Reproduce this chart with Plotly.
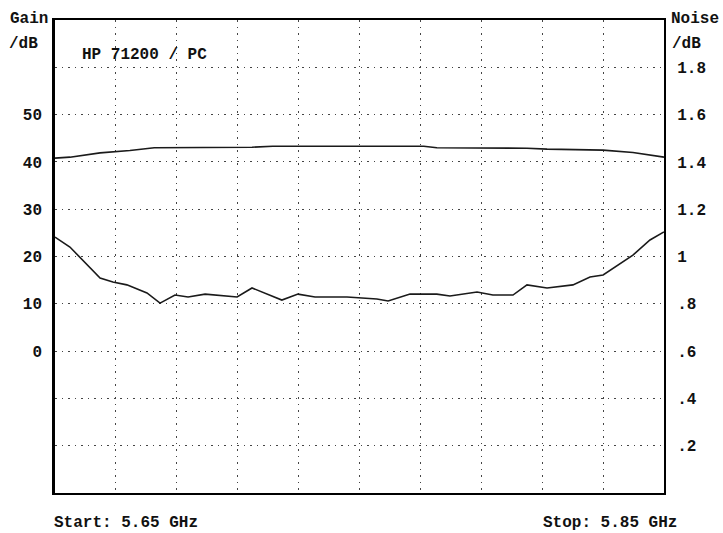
import plotly.graph_objects as go

# ---- data ----
freq_gain = [5.65, 5.6549, 5.6648, 5.6746, 5.6826, 5.7147, 5.7215, 5.7711, 5.7754,
             5.8050, 5.8116, 5.8300, 5.8398, 5.85]
gain = [40.8, 41.0, 41.9, 42.4, 43.0, 43.1, 43.3, 43.3, 43.0,
        42.9, 42.7, 42.5, 42.0, 41.0]

freq_noise = [5.65, 5.6549, 5.6648, 5.6690, 5.6736, 5.6802, 5.6845, 5.6894, 5.6937,
              5.6993, 5.7098, 5.7147, 5.7245, 5.7298, 5.7354, 5.7459, 5.7557, 5.7594,
              5.7666, 5.7754, 5.7797, 5.7886, 5.7938, 5.8004, 5.8050, 5.8116, 5.8201,
              5.8257, 5.8300, 5.8398, 5.8454, 5.85]
noise = [1.082, 1.040, 0.909, 0.892, 0.880, 0.846, 0.803, 0.837, 0.829,
         0.841, 0.829, 0.867, 0.816, 0.841, 0.829, 0.829, 0.820, 0.812,
         0.841, 0.841, 0.833, 0.850, 0.837, 0.837, 0.880, 0.867, 0.880,
         0.913, 0.922, 1.006, 1.070, 1.104]

gain_ticks = [0, 10, 20, 30, 40, 50]
gain_tick_labels = ["0", "10", "20", "30", "40", "50"]
noise_ticks = [0.2, 0.4, 0.6, 0.8, 1.0, 1.2, 1.4, 1.6, 1.8]
noise_tick_labels = [".2", ".4", ".6", ".8", "1", "1.2", "1.4", "1.6", "1.8"]
freq_grid = [5.67, 5.69, 5.71, 5.73, 5.75, 5.77, 5.79, 5.81, 5.83]

FONT = "Liberation Mono"
W, H = 723, 533
L, R, T, B = 55, 59, 20, 40
PW, PH = W - L - R, H - T - B


def px(x):  # page pixel -> paper fraction
    return (x - L) / PW


def py(y):
    return (H - B - y) / PH


fig = go.Figure()
fig.add_trace(go.Scatter(x=freq_gain, y=gain, mode="lines", yaxis="y",
                         line=dict(color="#1a1a1a", width=1.6), showlegend=False))
fig.add_trace(go.Scatter(x=freq_noise, y=noise, mode="lines", yaxis="y2",
                         line=dict(color="#1a1a1a", width=1.6), showlegend=False))

dash = "1.5px,5px"
fig.update_layout(
    width=W, height=H,
    margin=dict(l=L, r=R, t=T, b=B, pad=0),
    paper_bgcolor="white", plot_bgcolor="white",
    font=dict(family=FONT, size=16, color="#111"),
    xaxis=dict(range=[5.65, 5.85], tickvals=freq_grid, showticklabels=False,
               showgrid=True, gridcolor="#444", gridwidth=1, griddash=dash,
               showline=True, linecolor="black", linewidth=2, mirror=True,
               zeroline=False, ticks="", automargin=False),
    yaxis=dict(range=[-30, 70], tickvals=gain_ticks, ticktext=gain_tick_labels,
               showgrid=False, zeroline=False, showline=True, linecolor="black",
               linewidth=2.5, ticks="", ticklabelstandoff=7, automargin=False,
               tickfont=dict(family=FONT, size=16, weight="bold", color="#111")),
    yaxis2=dict(range=[0, 2], overlaying="y", side="right",
                tickvals=noise_ticks, ticktext=noise_tick_labels,
                showgrid=True, gridcolor="#444", gridwidth=1, griddash=dash,
                zeroline=False, showline=True, linecolor="black", linewidth=2,
                ticks="", ticklabelstandoff=8, automargin=False,
                tickfont=dict(family=FONT, size=16, weight="bold", color="#111")),
)

ann = [
    ("Gain", 8, 19),
    ("/dB", 7, 44),
    ("Noise", 669, 19),
    ("/dB", 670, 44),
    ("HP 71200 / PC", 80, 55),
    ("Start: 5.65 GHz", 52, 523),
    ("Stop: 5.85 GHz", 541, 523),
]
for text, x, y in ann:
    fig.add_annotation(text=text, x=px(x), y=py(y), xref="paper", yref="paper",
                       xanchor="left", yanchor="middle", showarrow=False,
                       font=dict(family=FONT, size=16, weight="bold", color="#111"))

fig.write_html("out.html",
               config={"displayModeBar": False},
               post_script="document.body.style.margin='0';"
                           "document.body.style.overflow='hidden';")
